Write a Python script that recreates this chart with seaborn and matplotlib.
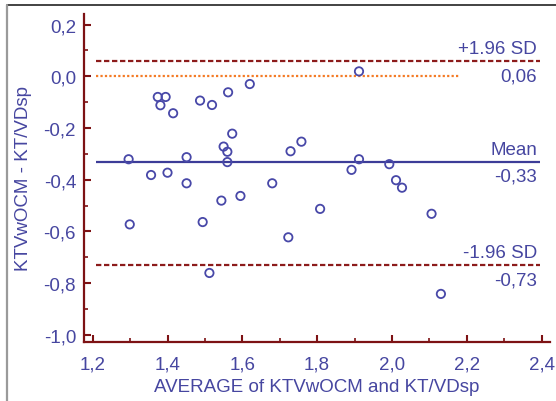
import matplotlib
matplotlib.use("Agg")
import matplotlib.pyplot as plt
from matplotlib.lines import Line2D
from matplotlib.ticker import MultipleLocator, FuncFormatter
import seaborn as sns
import pandas as pd

# Bland-Altman data: average of the two methods vs. their difference
avg = [1.374, 1.395, 1.381, 1.415, 1.487, 1.519, 1.562, 1.620, 1.573, 1.550,
       1.560, 1.560, 1.296, 1.451, 1.356, 1.400, 1.451, 1.544, 1.595, 1.680,
       1.299, 1.494, 1.512, 1.912, 1.758, 1.729, 1.912, 1.892, 1.993, 2.011,
       2.027, 1.808, 1.723, 2.106, 2.131]
diff = [-0.080, -0.080, -0.112, -0.143, -0.094, -0.111, -0.062, -0.030, -0.222, -0.272,
        -0.292, -0.332, -0.321, -0.313, -0.382, -0.373, -0.414, -0.481, -0.463, -0.414,
        -0.573, -0.564, -0.761, 0.019, -0.253, -0.290, -0.321, -0.362, -0.340, -0.402,
        -0.431, -0.513, -0.623, -0.532, -0.842]

# Reference lines: upper limit, mean difference, lower limit
level_names = ["+1.96 SD", "Mean", "-1.96 SD"]
level_values = [0.06, -0.33, -0.73]
zero_value = 0.0

x_label = "AVERAGE of KTVwOCM and KT/VDsp"
y_label = "KTVwOCM - KT/VDsp"

BLUE = "#4646a0"
LINEBLUE = "#3c3c98"
POINT = "#4848a8"
DARKRED = "#7d1214"
DASHRED = "#8c1b1b"
ORANGE = "#f47b26"
FS = 13.5

sns.set_style("white")
plt.rcParams["font.family"] = ["Liberation Sans", "DejaVu Sans"]

fig = plt.figure(figsize=(5.56, 4.02), dpi=100)
ax = fig.add_axes([0.1502, 0.1468, 0.9892 - 0.1502, 0.9627 - 0.1468])

df = pd.DataFrame({"avg": avg, "diff": diff})
sns.scatterplot(data=df, x="avg", y="diff", ax=ax, s=36, marker="o",
                linewidth=1.3, zorder=3)
pts = ax.collections[-1]
pts.set_facecolor("none")
pts.set_edgecolor(POINT)

x0, x1 = 1.208, 2.396
ax.hlines(zero_value, x0, 2.180, colors=ORANGE, linewidth=1.6,
          linestyles=(0, (1.0, 1.0)), zorder=2)
styles = [dict(colors=DASHRED, linestyles=(0, (2.4, 1.2))),
          dict(colors=LINEBLUE, linestyles="solid"),
          dict(colors=DASHRED, linestyles=(0, (2.4, 1.2)))]
for name, val, st in zip(level_names, level_values, styles):
    ax.hlines(val, x0, x1, linewidth=1.6, zorder=2, **st)
    ax.annotate(name, xy=(2.388, val), xytext=(0, 5.8), textcoords="offset points",
                ha="right", va="baseline", color=BLUE, fontsize=FS)
    ax.annotate(f"{val:.2f}".replace(".", ","), xy=(2.388, val), xytext=(0, -4.5),
                textcoords="offset points", ha="right", va="top",
                color=BLUE, fontsize=FS)

ax.set_xlim(1.1754, 2.4227)
ax.set_ylim(-1.028, 0.241)

ax.xaxis.set_major_locator(MultipleLocator(0.2))
ax.xaxis.set_minor_locator(MultipleLocator(0.1))
ax.yaxis.set_major_locator(MultipleLocator(0.2))
ax.yaxis.set_minor_locator(MultipleLocator(0.1))
fmt = FuncFormatter(lambda v, p: f"{v:.1f}".replace(".", ",").replace("-0,0", "0,0"))
ax.xaxis.set_major_formatter(fmt)
ax.yaxis.set_major_formatter(fmt)

for side in ["top", "right"]:
    ax.spines[side].set_visible(False)
for side in ["left", "bottom"]:
    ax.spines[side].set_color(DARKRED)
    ax.spines[side].set_linewidth(1.6)

ax.tick_params(axis="both", which="major", direction="in", length=5, width=1.5,
               color=DARKRED, labelcolor=BLUE, labelsize=FS)
ax.tick_params(axis="both", which="minor", direction="in", length=3.2, width=1.2,
               color=DARKRED)
ax.tick_params(axis="x", which="major", pad=10)
ax.tick_params(axis="y", which="major", pad=5.4)
ax.tick_params(left=True, bottom=True, which="both")

ax.set_xlabel(x_label, color=BLUE, fontsize=FS, labelpad=4)
ax.set_ylabel(y_label, color=BLUE, fontsize=FS, labelpad=8)

# outer frame edges
fy = 1 - 6 / 402
fx = 7 / 556
fig.add_artist(Line2D([fx, 1], [fy, fy], transform=fig.transFigure,
                      color="#222222", linewidth=1.2))
fig.add_artist(Line2D([fx, fx], [0, fy], transform=fig.transFigure,
                      color="#9a9a9a", linewidth=1.6))

fig.savefig("out.png", dpi=100)
